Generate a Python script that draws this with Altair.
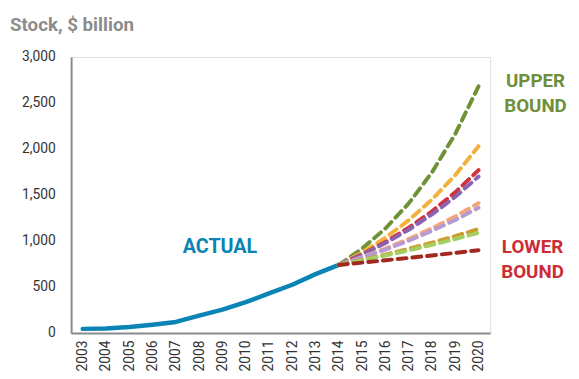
import altair as alt
import pandas as pd

years = [str(y) for y in range(2003, 2021)]
actual_years = [str(y) for y in range(2003, 2015)]
actual_values = [45, 50, 65, 90, 120, 190, 255, 335, 430, 525, 640, 740]

proj_years = [str(y) for y in range(2014, 2021)]
series_names = ["s1", "s2", "s3", "s4", "s5", "s6", "s7", "s8", "s9"]
s1 = [740, 917, 1136, 1408, 1745, 2162, 2680]   # upper bound (green)
s2 = [740, 875, 1036, 1225, 1450, 1715, 2030]   # orange
s3 = [740, 856, 989, 1144, 1322, 1529, 1770]    # red
s4 = [740, 850, 977, 1122, 1289, 1480, 1700]    # purple
s5 = [740, 824, 918, 1022, 1138, 1267, 1410]    # peach
s6 = [740, 819, 907, 1003, 1111, 1229, 1360]    # light purple
s7 = [740, 794, 852, 915, 982, 1053, 1130]      # gold
s8 = [740, 789, 842, 898, 958, 1022, 1090]      # light green
s9 = [740, 765, 790, 816, 843, 871, 900]        # lower bound (dark red)
series_values = [s1, s2, s3, s4, s5, s6, s7, s8, s9]
series_colors = ["#6f9237", "#f1b13a", "#d1323b", "#8a63b3", "#f6a57b",
                 "#b59ad3", "#cf9b2d", "#a3cf60", "#a3281f"]

actual_df = pd.DataFrame({"year": actual_years, "value": actual_values})
rows = []
for name, vals in zip(series_names, series_values):
    for y, v in zip(proj_years, vals):
        rows.append({"series": name, "year": y, "value": v})
proj_df = pd.DataFrame(rows)

label_font = "Roboto, sans-serif"
ann_font = "Roboto, sans-serif"

x_enc = alt.X("year:O", scale=alt.Scale(domain=years, type="point", padding=0.5),
              axis=alt.Axis(title=None, labelAngle=270, ticks=False, labelPadding=7,
                            labelFontSize=14, labelFont=label_font, labelColor="#333333",
                            domainColor="#8a8a8e", domainWidth=2, grid=False,
                            labelBaseline="middle", labelAlign="right"))
y_enc = alt.Y("value:Q", scale=alt.Scale(domain=[0, 3000], nice=False),
              axis=alt.Axis(title=None, values=[0, 500, 1000, 1500, 2000, 2500, 3000],
                            format=",.0f", ticks=False, labelPadding=16, labelFontSize=14,
                            labelFont=label_font, labelColor="#333333",
                            domainColor="#8a8a8e", domainWidth=2, grid=False))

actual = alt.Chart(actual_df).mark_line(color="#0a84b4", strokeWidth=4.5,
                                        strokeCap="round", strokeJoin="round").encode(
    x=x_enc, y=y_enc)

proj = alt.Chart(proj_df).mark_line(strokeWidth=4, strokeDash=[9, 6],
                                     strokeCap="round").encode(
    x=x_enc, y=y_enc,
    color=alt.Color("series:N", scale=alt.Scale(domain=series_names, range=series_colors),
                    legend=None),
    order=alt.Order("series:N", sort="ascending"))

def label(text, x, y, color, size=20, align="center", weight="bold", font=ann_font):
    return alt.Chart(pd.DataFrame({"t": [text]})).mark_text(
        align=align, baseline="middle", fontSize=size, fontWeight=weight,
        font=font, color=color).encode(
        text="t:N", x=alt.value(x), y=alt.value(y))

title = label("Stock, $ billion", -62, -32, "#8c8c8c", size=19, align="left")
actual_lbl = label("ACTUAL", 151, 193, "#0a84b4")
up1 = label("UPPER", 471, 24, "#6f8f3a", size=19)
up2 = label("BOUND", 471, 50, "#6f8f3a", size=19)
lo1 = label("LOWER", 468, 193, "#cc2c35", size=19)
lo2 = label("BOUND", 468, 218, "#cc2c35", size=19)

chart = alt.layer(actual, proj, title, actual_lbl, up1, up2, lo1, lo2).properties(
    width=425, height=280,
    autosize=alt.AutoSizeParams(type="none"),
    padding={"left": 64, "top": 47, "right": 82, "bottom": 44},
).configure_view(stroke=None).configure(background="white")

chart.save("out.html", embed_options={"renderer": "svg", "actions": False})
